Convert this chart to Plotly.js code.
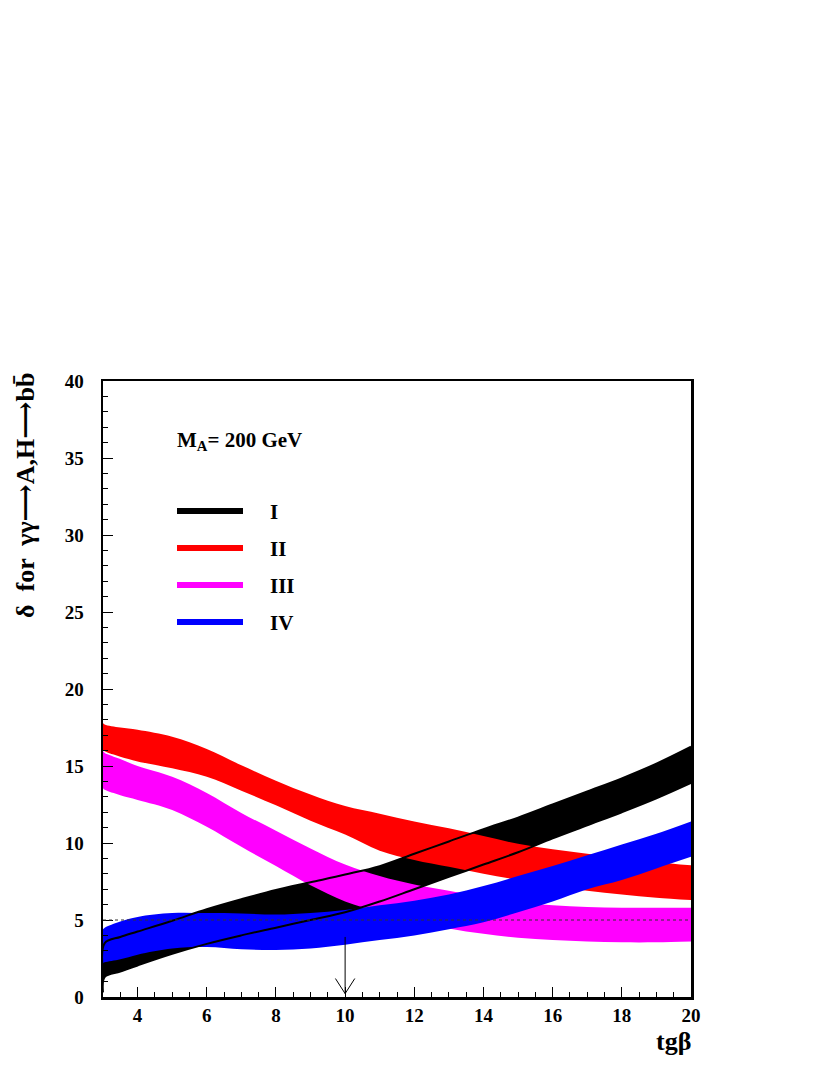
<!DOCTYPE html>
<html>
<head>
<meta charset="utf-8">
<script src="https://cdn.plot.ly/plotly-3.0.1.min.js"></script>
<style>html,body{margin:0;padding:0;background:#fff;}#chart{width:830px;height:1075px;}</style>
</head>
<body>
<div id="chart"></div>
<script>
// tg(beta) grid
const tgb = [3, 3.05, 3.5, 4, 5, 6, 7, 8, 9, 10, 11, 12, 13, 14, 15, 16, 17, 18, 19, 20];

// Band I (black)
const bandI_up = [1.5, 3.5, 3.9, 4.25, 4.95, 5.7, 6.35, 6.95, 7.45, 7.95, 8.5, 9.3, 10.1, 10.9, 11.65, 12.5, 13.35, 14.2, 15.15, 16.25];
const bandI_lo = [0.3, 1.3, 1.65, 2.05, 2.8, 3.45, 4.0, 4.5, 5.0, 5.5, 6.2, 7.0, 7.8, 8.6, 9.4, 10.3, 11.15, 12.0, 12.9, 13.9];
// Band II (red)
const bandII_up = [17.8, 17.7, 17.5, 17.35, 16.9, 16.1, 15.05, 14.05, 13.15, 12.4, 11.9, 11.4, 10.95, 10.45, 9.95, 9.6, 9.3, 9.0, 8.75, 8.55];
const bandII_lo = [16.05, 15.95, 15.6, 15.3, 14.85, 14.3, 13.4, 12.45, 11.45, 10.55, 9.5, 8.9, 8.45, 8.0, 7.6, 7.2, 6.9, 6.65, 6.45, 6.3];
// Band III (magenta)
const bandIII_up = [15.95, 15.85, 15.45, 15.0, 14.3, 13.25, 11.95, 10.8, 9.65, 8.6, 7.85, 7.3, 6.9, 6.5, 6.15, 5.95, 5.85, 5.8, 5.8, 5.8];
const bandIII_lo = [13.55, 13.45, 13.1, 12.8, 12.15, 11.05, 9.75, 8.5, 7.25, 6.2, 5.5, 4.95, 4.45, 4.1, 3.85, 3.7, 3.6, 3.55, 3.55, 3.6];
// Band IV (blue)
const bandIV_up = [4.4, 4.5, 4.9, 5.2, 5.45, 5.45, 5.43, 5.35, 5.45, 5.65, 5.95, 6.25, 6.65, 7.2, 7.85, 8.5, 9.2, 9.9, 10.6, 11.4];
const bandIV_lo = [2.2, 2.25, 2.45, 2.75, 3.15, 3.25, 3.1, 3.05, 3.15, 3.4, 3.7, 4.0, 4.4, 4.85, 5.5, 6.2, 7.0, 7.6, 8.35, 9.1];

const xTicks = [4, 6, 8, 10, 12, 14, 16, 18, 20];
const yTicks = [0, 5, 10, 15, 20, 25, 30, 35, 40];
const bandNames = ['I', 'II', 'III', 'IV'];
const bandColors = ['#000000', '#ff0000', '#ff00ff', '#0000ff'];
const bands = [[bandI_lo, bandI_up], [bandII_lo, bandII_up], [bandIII_lo, bandIII_up], [bandIV_lo, bandIV_up]];

const traces = [];
bands.forEach((b, i) => {
  traces.push({x: tgb, y: b[0], type: 'scatter', mode: 'lines', line: {width: 0, shape: 'spline', color: bandColors[i]}, showlegend: false, hoverinfo: 'skip'});
  traces.push({x: tgb, y: b[1], type: 'scatter', mode: 'lines', fill: 'tonexty', fillcolor: bandColors[i], line: {width: 0, shape: 'spline', color: bandColors[i]}, showlegend: false, hoverinfo: 'skip'});
});
// outline of band I on top
traces.push({x: tgb, y: bandI_up, type: 'scatter', mode: 'lines', line: {width: 2, shape: 'spline', color: '#000'}, showlegend: false, hoverinfo: 'skip'});
traces.push({x: tgb, y: bandI_lo, type: 'scatter', mode: 'lines', line: {width: 2, shape: 'spline', color: '#000'}, showlegend: false, hoverinfo: 'skip'});

const serif = '"Liberation Serif"';
const L = 103, R = 139, T = 381, B = 78;
const plotW = 830 - L - R, plotH = 1075 - T - B;
const px2x = p => (p - L) / plotW;
const py2y = p => (1075 - B - p) / plotH;

const legendY = [511, 548, 585, 622];
const shapes = [
  {type: 'line', xref: 'x', yref: 'y', x0: 3, x1: 20, y0: 5, y1: 5, line: {color: '#333', width: 1, dash: '3px,3px'}, layer: 'above'},
  {type: 'line', xref: 'x', yref: 'y', x0: 10, x1: 10, y0: 3.9, y1: 0.22, line: {color: '#000', width: 1}, layer: 'above'},
  {type: 'line', xref: 'x', yref: 'y', x0: 9.72, x1: 10, y0: 1.2, y1: 0.22, line: {color: '#000', width: 1}, layer: 'above'},
  {type: 'line', xref: 'x', yref: 'y', x0: 10.28, x1: 10, y0: 1.2, y1: 0.22, line: {color: '#000', width: 1}, layer: 'above'}
];
const arrow = '<span style="font-family:\'DejaVu Serif\'">⟶</span>';
const annotations = [
  {xref: 'paper', yref: 'paper', x: px2x(25), y: py2y(495), text: '<b>δ  for  γγ' + arrow + 'A,H' + arrow + 'bb\u0304</b>', textangle: -90, showarrow: false, xanchor: 'center', yanchor: 'middle', font: {family: serif, size: 26, color: '#000'}},
  {xref: 'paper', yref: 'paper', x: px2x(693), y: py2y(1041), text: '<b>tgβ</b>', showarrow: false, xanchor: 'right', yanchor: 'middle', font: {family: serif, size: 26, color: '#000'}},
  {xref: 'paper', yref: 'paper', x: px2x(175), y: py2y(441), text: '<b>M<sub>A</sub>= 200 GeV</b>', showarrow: false, xanchor: 'left', yanchor: 'middle', font: {family: serif, size: 21, color: '#000'}}
];
bandNames.forEach((n, i) => {
  shapes.push({type: 'line', xref: 'paper', yref: 'paper', x0: px2x(177), x1: px2x(243), y0: py2y(legendY[i]), y1: py2y(legendY[i]), line: {color: bandColors[i], width: 6}});
  annotations.push({xref: 'paper', yref: 'paper', x: px2x(268), y: py2y(legendY[i] + 1), text: '<b>' + n + '</b>', showarrow: false, xanchor: 'left', yanchor: 'middle', font: {family: serif, size: 21, color: '#000'}});
});

const layout = {
  width: 830, height: 1075,
  margin: {l: L, r: R, t: T, b: B, pad: 0},
  paper_bgcolor: '#fff', plot_bgcolor: '#fff',
  showlegend: false,
  font: {family: serif},
  xaxis: {
    range: [3, 20], showgrid: false, zeroline: false,
    showline: true, linecolor: '#000', linewidth: 2.5, mirror: true,
    ticks: 'inside', ticklen: 10, tickwidth: 1, tickcolor: '#000',
    tickvals: xTicks, ticktext: xTicks.map(v => '<b>' + v + '</b>'),
    tickfont: {family: serif, size: 19, color: '#000'},
    ticklabelstandoff: 0,
    minor: {dtick: 0.5, ticks: 'inside', ticklen: 5, tickwidth: 1, tickcolor: '#000', showgrid: false}
  },
  yaxis: {
    range: [0, 40], showgrid: false, zeroline: false,
    showline: true, linecolor: '#000', linewidth: 2.5, mirror: true,
    ticks: 'inside', ticklen: 10, tickwidth: 1, tickcolor: '#000',
    tickvals: yTicks, ticktext: yTicks.map(v => '<b>' + v + '</b>'),
    tickfont: {family: serif, size: 19, color: '#000'},
    ticklabelstandoff: 13,
    minor: {dtick: 1, ticks: 'inside', ticklen: 5, tickwidth: 1, tickcolor: '#000', showgrid: false}
  },
  shapes: shapes,
  annotations: annotations
};
Plotly.newPlot('chart', traces, layout, {staticPlot: true, displayModeBar: false});
</script>
</body>
</html>
